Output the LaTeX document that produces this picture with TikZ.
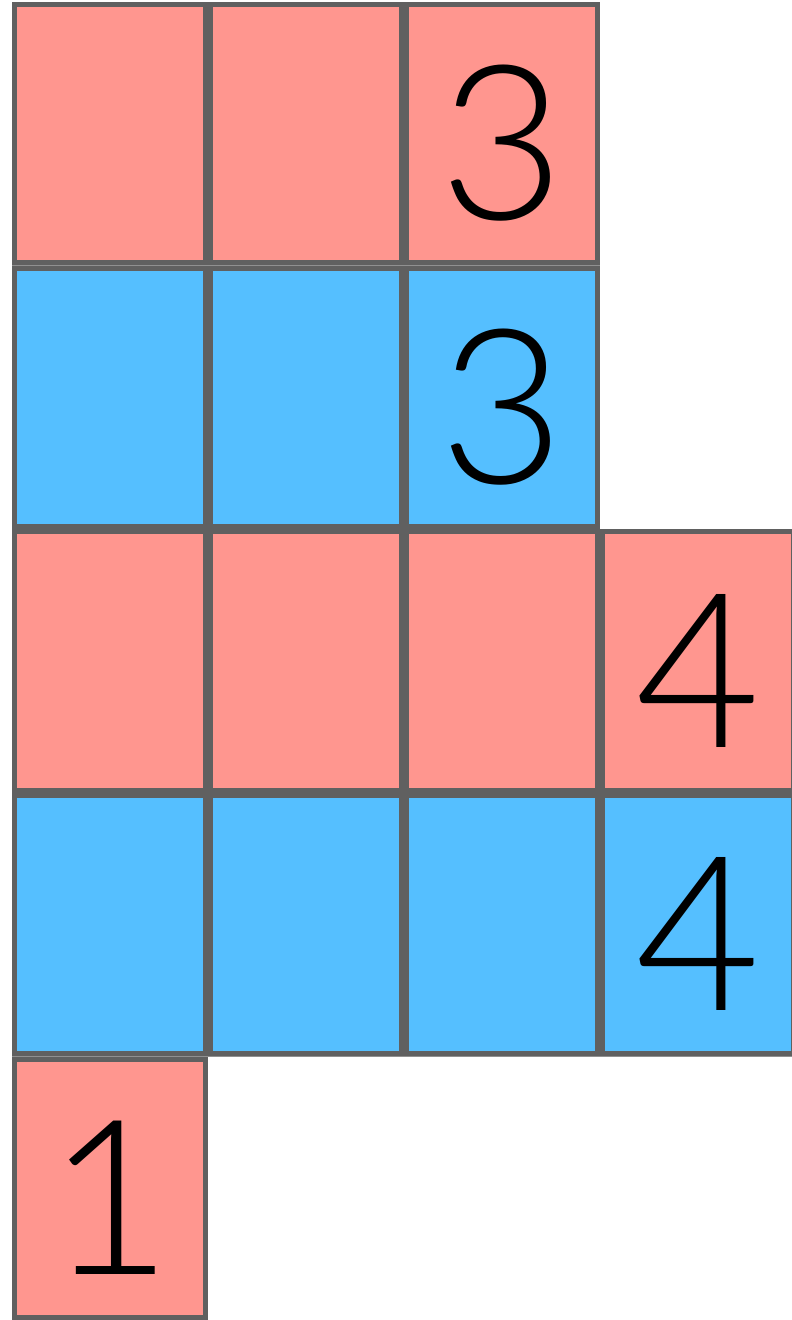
\documentclass[tikz,border=0pt]{standalone}
\usepackage{fontspec}
\newfontfamily\digitfont{Lato Light}
\usetikzlibrary{calc}
\definecolor{cellpink}{RGB}{255,150,143}
\definecolor{cellblue}{RGB}{85,191,255}
\definecolor{cellline}{RGB}{96,96,96}
\tikzset{
  cellbox/.style={rectangle, draw=cellline, line width=5pt, inner sep=0pt,
    minimum width=190.6pt, minimum height=258.2pt},
  pinkcell/.style={cellbox, fill=cellpink},
  bluecell/.style={cellbox, fill=cellblue},
  digit/.style={anchor=base, inner sep=0pt, font=\digitfont\fontsize{216}{216}\selectfont, text=black}
}
\begin{document}
\begin{tikzpicture}[x=1pt,y=-1pt]
\fill[cellline!70] (12,2) rectangle (600,1057);
\fill[cellline!70] (600,529) rectangle (792,1057);
\fill[cellline!70] (12,1057) rectangle (208,1320);
\useasboundingbox (0,0) rectangle (792,1320);
% column centres: 110, 306, 502, 698 ; row centres: 133.8, 397.4, 661, 924.6, 1188.2
\node[pinkcell] (c11) at (110,133.8) {};
\node[pinkcell] (c12) at (306,133.8) {};
\node[pinkcell] (c13) at (502,133.8) {};
\node[bluecell] (c21) at (110,397.4) {};
\node[bluecell] (c22) at (306,397.4) {};
\node[bluecell] (c23) at (502,397.4) {};
\node[pinkcell] (c31) at (110,661) {};
\node[pinkcell] (c32) at (306,661) {};
\node[pinkcell] (c33) at (502,661) {};
\node[pinkcell] (c34) at (698,661) {};
\node[bluecell] (c41) at (110,924.6) {};
\node[bluecell] (c42) at (306,924.6) {};
\node[bluecell] (c43) at (502,924.6) {};
\node[bluecell] (c44) at (698,924.6) {};
\node[pinkcell] (c51) at (110,1188.2) {};
\node[digit] (d13) at ($(c13.center)+(0,86)$) {3};
\node[digit] (d23) at ($(c23.center)+(0,86)$) {3};
\node[digit] (d34) at ($(c34.center)+(0,86)$) {4};
\node[digit] (d44) at ($(c44.center)+(0,86)$) {4};
\node[digit] (d51) at ($(c51.center)+(0,86)$) {1};
\end{tikzpicture}
\end{document}
